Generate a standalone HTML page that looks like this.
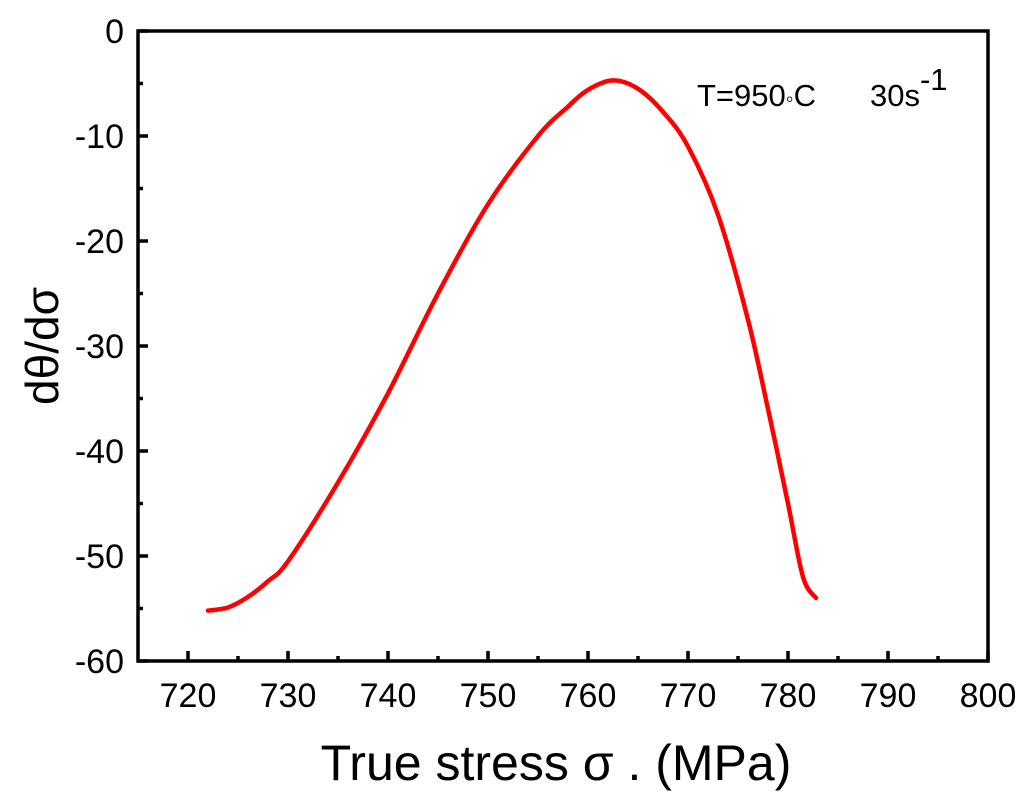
<!DOCTYPE html>
<html><head><meta charset="utf-8"><style>
body{margin:0;background:#fff;}
svg{display:block;font-family:"Liberation Sans",Arial,sans-serif;}
</style></head><body>
<svg id="chart" width="1024" height="794">
<g id="axes"></g>
<text x="697" y="106" font-size="31">T=950<tspan font-size="22">◦</tspan>C</text>
<text x="870" y="106" font-size="31">30s<tspan dy="-16" font-size="31">-1</tspan></text>
<text x="556" y="780" font-size="50" text-anchor="middle">True stress  σ   . (MPa)</text>
<text transform="translate(58,346) rotate(-90)" font-size="46" text-anchor="middle">dθ/dσ</text>
</svg>
<script>
const xTicks=[720,730,740,750,760,770,780,790,800];
const yTicks=[0,-10,-20,-30,-40,-50,-60];
const stressX=[722,724,726,728,730,735,740,745,750,755,758,760,762.5,765,767.5,770,773,776,778,780,781.5,782.8];
const dThetaY=[-55.2,-54.9,-53.9,-52.4,-50.5,-43,-34.5,-25,-16.5,-10,-7.2,-5.6,-4.7,-5.5,-7.7,-11,-17.5,-27.5,-36,-45,-52,-54];
const NS='http://www.w3.org/2000/svg';
const L=138,R=988,T=31,B=661,xmin=715,xmax=800,ymin=-60,ymax=0;
const sx=v=>L+(v-xmin)/(xmax-xmin)*(R-L);
const sy=v=>B-(v-ymin)/(ymax-ymin)*(B-T);
const g=document.getElementById('axes');
function mk(t,a){const e=document.createElementNS(NS,t);for(const k in a)e.setAttribute(k,a[k]);g.appendChild(e);return e;}
const fr=mk('rect',{x:L,y:T,width:R-L,height:B-T,fill:'none',stroke:'#000','stroke-width':3.5});


xTicks.forEach(v=>{
 const x=sx(v);
 const t=mk('line',{x1:x,x2:x,y1:B,y2:B-10,stroke:'#000','stroke-width':3.5});
 
 
 if(v+5<xmax){const m=mk('line',{x1:sx(v+5),x2:sx(v+5),y1:B,y2:B-5,stroke:'#000','stroke-width':3.5});
 
 }
 const l=mk('text',{x:x,y:B+46,'font-size':34,'text-anchor':'middle'});l.textContent=v;
 
 
});
yTicks.forEach(v=>{
 const y=sy(v);
 const t=mk('line',{x1:L,x2:L+10,y1:y,y2:y,stroke:'#000','stroke-width':3.5});
 
 
 if(v-5>ymin){const m=mk('line',{x1:L,x2:L+5,y1:sy(v-5),y2:sy(v-5),stroke:'#000','stroke-width':3.5});
 
 }
 const l=mk('text',{x:L-14,y:y+12,'font-size':34,'text-anchor':'end'});l.textContent=v;
 
 
});
const P=stressX.map((v,i)=>[sx(v),sy(dThetaY[i])]);
let d='M'+P[0][0].toFixed(1)+','+P[0][1].toFixed(1);
for(let i=0;i<P.length-1;i++){
 const p0=P[Math.max(0,i-1)],p1=P[i],p2=P[i+1],p3=P[Math.min(P.length-1,i+2)];
 const c1=[p1[0]+(p2[0]-p0[0])/6,p1[1]+(p2[1]-p0[1])/6];
 const c2=[p2[0]-(p3[0]-p1[0])/6,p2[1]-(p3[1]-p1[1])/6];
 d+='C'+c1.map(n=>n.toFixed(1))+' '+c2.map(n=>n.toFixed(1))+' '+p2.map(n=>n.toFixed(1));
}
const p=mk('path',{d:d,fill:'none',stroke:'#ff0000','stroke-width':4.5,'stroke-linejoin':'round','stroke-linecap':'round'});


</script>
</body></html>
